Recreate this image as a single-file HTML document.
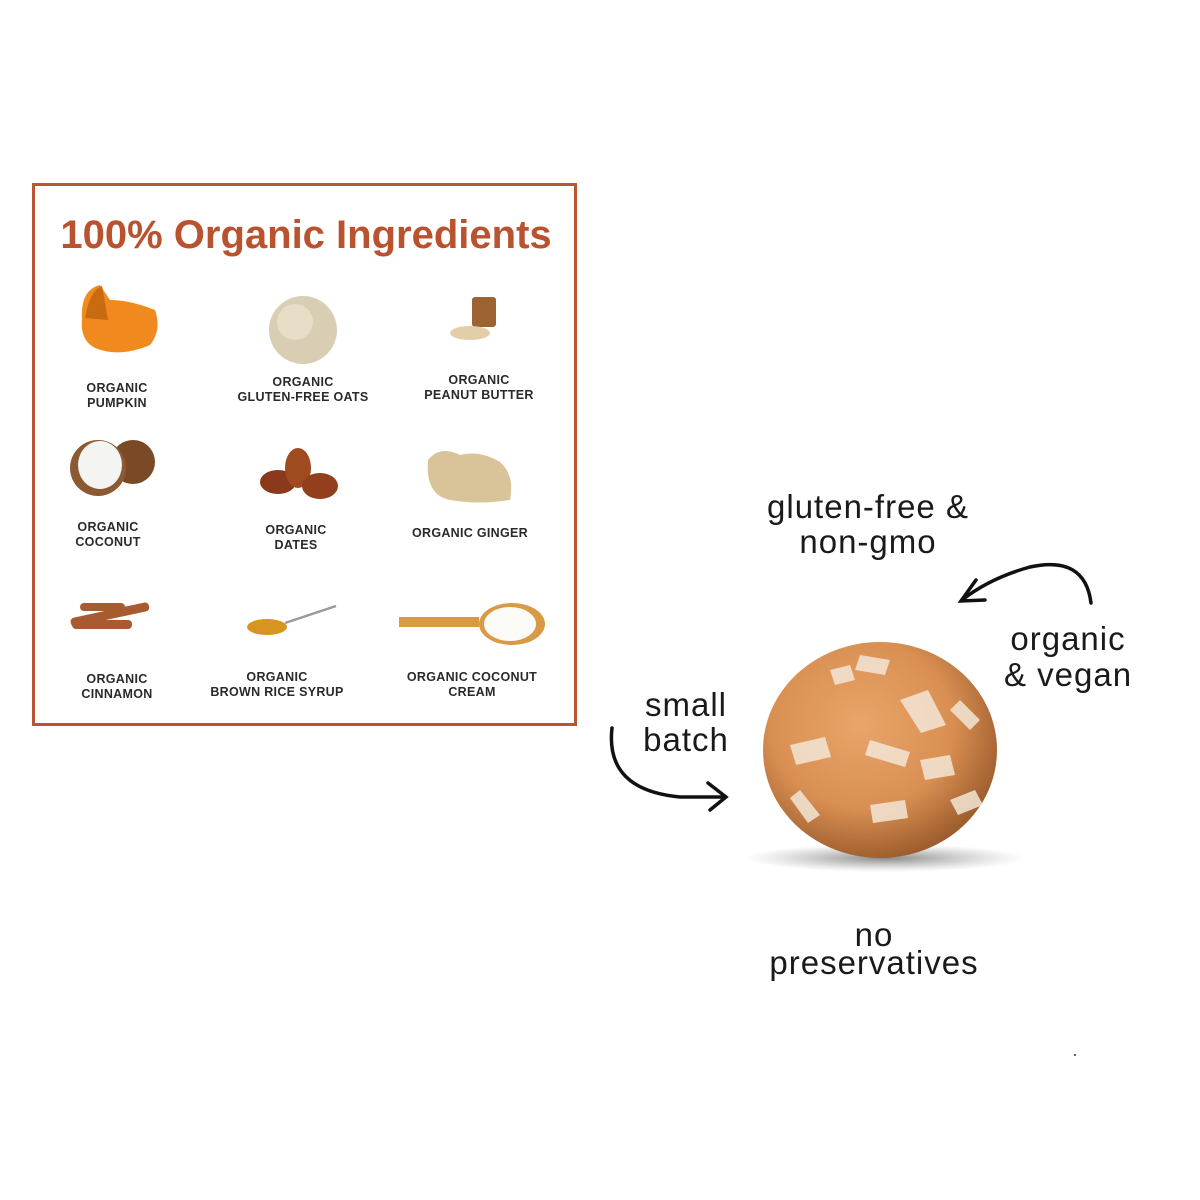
<!DOCTYPE html>
<html><head><meta charset="utf-8"><style>
html,body{margin:0;padding:0;background:#fff;width:1200px;height:1200px;overflow:hidden}
svg{display:block}
.lab{font-family:"Liberation Sans",sans-serif;font-weight:bold;font-size:12.5px;fill:#2a2a2a;letter-spacing:0.3px;text-anchor:middle}
.hand{font-family:"Liberation Sans",sans-serif;font-size:33px;fill:#1a1a1a;letter-spacing:1px;text-anchor:middle}
</style></head><body>
<svg width="1200" height="1200" viewBox="0 0 1200 1200">
<defs>
<radialGradient id="ball" cx="0.42" cy="0.38" r="0.65">
<stop offset="0" stop-color="#e9a56a"/><stop offset="0.6" stop-color="#d98f52"/><stop offset="1" stop-color="#9a5a2c"/></radialGradient>
<radialGradient id="sh" cx="0.5" cy="0.5" r="0.5">
<stop offset="0" stop-color="#555" stop-opacity="0.7"/><stop offset="1" stop-color="#888" stop-opacity="0"/></radialGradient>
</defs>
<rect x="33.5" y="184.5" width="542" height="540" fill="#fff" stroke="#b95530" stroke-width="3"/>
<text x="306" y="248" font-family="Liberation Sans,sans-serif" font-weight="bold" font-size="40" fill="#b9532f" text-anchor="middle">100% Organic Ingredients</text>

<path d="M82 320 Q80 290 100 285 L110 300 Q130 300 155 310 Q162 330 150 345 Q120 358 95 348 Q80 340 82 320Z" fill="#f08a1e"/>
<path d="M85 318 Q90 290 102 286 L108 320 Z" fill="#c86a10"/>
<text class="lab" x="117" y="392">ORGANIC</text><text class="lab" x="117" y="407">PUMPKIN</text>
<circle cx="303" cy="330" r="34" fill="#d9cdb4"/><circle cx="295" cy="322" r="18" fill="#e8ddc6"/>
<text class="lab" x="303" y="386">ORGANIC</text><text class="lab" x="303" y="401">GLUTEN-FREE OATS</text>
<rect x="472" y="297" width="24" height="30" rx="3" fill="#9c6230"/>
<ellipse cx="470" cy="333" rx="20" ry="7" fill="#e2cfa9"/>
<text class="lab" x="479" y="384">ORGANIC</text><text class="lab" x="479" y="399">PEANUT BUTTER</text>
<circle cx="133" cy="462" r="22" fill="#7a4a26"/>
<circle cx="98" cy="468" r="28" fill="#8b5a32"/><ellipse cx="100" cy="465" rx="22" ry="24" fill="#f4f4f2"/>
<text class="lab" x="108" y="531">ORGANIC</text><text class="lab" x="108" y="546">COCONUT</text>
<ellipse cx="278" cy="482" rx="18" ry="12" fill="#8a3a1a"/><ellipse cx="298" cy="468" rx="13" ry="20" fill="#a04a20"/><ellipse cx="320" cy="486" rx="18" ry="13" fill="#913f1c"/>
<text class="lab" x="296" y="534">ORGANIC</text><text class="lab" x="296" y="549">DATES</text>
<path d="M428 460 Q440 445 460 455 Q480 450 500 462 Q515 475 510 500 Q480 505 450 500 Q425 495 428 460Z" fill="#d9c49a"/>
<text class="lab" x="470" y="537">ORGANIC GINGER</text>
<g fill="#a85a30"><rect x="70" y="610" width="80" height="9" rx="4" transform="rotate(-12 110 615)"/><rect x="72" y="620" width="60" height="9" rx="4"/><rect x="80" y="603" width="45" height="8" rx="4"/></g>
<text class="lab" x="117" y="683">ORGANIC</text><text class="lab" x="117" y="698">CINNAMON</text>
<ellipse cx="267" cy="627" rx="20" ry="8" fill="#d89420"/><line x1="285" y1="623" x2="336" y2="606" stroke="#999" stroke-width="2.5"/>
<text class="lab" x="277" y="681">ORGANIC</text><text class="lab" x="277" y="696">BROWN RICE SYRUP</text>
<rect x="399" y="617" width="80" height="10" fill="#d99a45"/><ellipse cx="512" cy="624" rx="33" ry="21" fill="#d99a45"/><ellipse cx="510" cy="624" rx="26" ry="17" fill="#fbfbf8"/>
<text class="lab" x="472" y="681">ORGANIC COCONUT</text><text class="lab" x="472" y="696">CREAM</text>

<ellipse cx="885" cy="858" rx="140" ry="14" fill="url(#sh)"/>
<ellipse cx="880" cy="750" rx="117" ry="108" fill="url(#ball)"/>
<g fill="#f3e6d6" opacity="0.85">
<path d="M900 700 l28 -10 l18 35 l-25 8z"/><path d="M790 745 l35 -8 l6 20 l-35 8z"/><path d="M870 740 l40 12 l-5 15 l-40 -12z"/>
<path d="M920 760 l30 -5 l5 20 l-30 5z"/><path d="M800 790 l20 25 l-12 8 l-18 -25z"/><path d="M870 805 l35 -5 l3 18 l-35 5z"/>
<path d="M860 655 l30 5 l-5 15 l-30 -5z"/><path d="M960 700 l20 20 l-10 10 l-20 -20z"/><path d="M830 670 l20 -5 l5 15 l-20 5z"/>
<path d="M950 800 l25 -10 l8 15 l-25 10z"/>
</g>

<text class="hand" x="868" y="518">gluten-free &amp;</text>
<text class="hand" x="868" y="553">non-gmo</text>
<text class="hand" x="1068" y="650">organic</text>
<text class="hand" x="1068" y="686">&amp; vegan</text>
<text class="hand" x="686" y="716">small</text>
<text class="hand" x="686" y="751">batch</text>
<text class="hand" x="874" y="946">no</text>
<text class="hand" x="874" y="974">preservatives</text>

<g fill="none" stroke="#111" stroke-width="3.5" stroke-linecap="round">
<path d="M1091 603 Q1085 555 1030 567 Q990 578 962 600"/>
<path d="M976 580 L961 601 L985 600"/>
<path d="M612 728 Q605 790 680 797 L722 797"/>
<path d="M708 783 L726 797 L710 810"/>
</g>
<circle cx="1075" cy="1055" r="1" fill="#333"/>
</svg>
</body></html>
